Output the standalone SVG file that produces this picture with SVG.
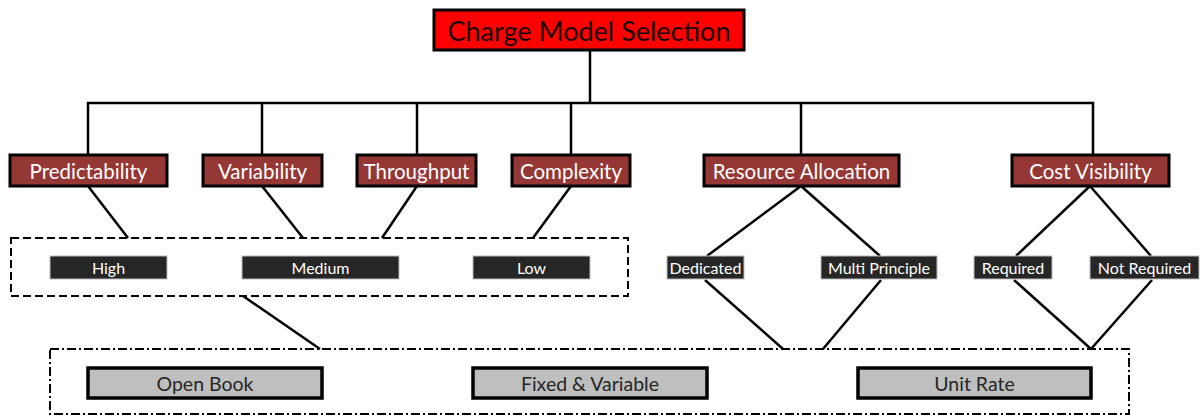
<svg xmlns="http://www.w3.org/2000/svg" width="1204" height="416" viewBox="0 0 1204 416">
<style>
text{font-family:Lato,"Open Sans","Liberation Sans",sans-serif;text-anchor:middle;dominant-baseline:central}
.root rect{fill:#ff0000;stroke:#000;stroke-width:3}
.root text{fill:#1a0000;font-size:27px}
.crit rect{fill:#953735;stroke:#000;stroke-width:3}
.crit text{fill:#fff;font-size:20.5px}
.opt rect{fill:#262626;stroke:#bbb;stroke-width:1}
.opt text{fill:#fff;font-size:16px}
.model rect{fill:#bfbfbf;stroke:#000;stroke-width:3.5}
.model text{fill:#262626;font-size:19.5px}
.conn line,.conn polyline{stroke:#000;stroke-width:2.5;fill:none}
.grp1{fill:none;stroke:#000;stroke-width:2;stroke-dasharray:8 4}
.grp2{fill:none;stroke:#000;stroke-width:2;stroke-dasharray:9 3 2 3}
</style>
<rect width="1204" height="416" fill="#fff"/>
<g id="connectors" class="conn">
<line x1="590" y1="50" x2="590" y2="103"/>
<polyline points="88,155 88,103 1093,103 1093,155"/>
<line x1="262" y1="103" x2="262" y2="155"/>
<line x1="417" y1="103" x2="417" y2="155"/>
<line x1="571" y1="103" x2="571" y2="155"/>
<line x1="801" y1="103" x2="801" y2="155"/>
<line x1="88" y1="186" x2="128" y2="238"/>
<line x1="262" y1="186" x2="303" y2="238"/>
<line x1="417" y1="186" x2="382" y2="238"/>
<line x1="571" y1="186" x2="533" y2="238"/>
<line x1="801" y1="186" x2="707" y2="256"/>
<line x1="801" y1="186" x2="880" y2="256"/>
<line x1="1090" y1="186" x2="1016" y2="256"/>
<line x1="1090" y1="186" x2="1151" y2="256"/>
<line x1="705" y1="280" x2="783" y2="349"/>
<line x1="881" y1="280" x2="823" y2="349"/>
<line x1="1014" y1="280" x2="1091" y2="349"/>
<line x1="1152" y1="280" x2="1091" y2="349"/>
<line x1="243" y1="296" x2="320" y2="349"/>
</g>
<rect id="group-levels" class="grp1" x="11" y="238" width="617" height="58"/>
<rect id="group-models" class="grp2" x="50" y="349" width="1079" height="65"/>
<g id="root" class="root"><rect x="434" y="10" width="310" height="40"/><text x="589" y="30">Charge Model Selection</text></g>
<g id="predictability" class="crit"><rect x="10" y="155" width="157" height="31"/><text x="88.5" y="170.5">Predictability</text></g>
<g id="variability" class="crit"><rect x="203" y="155" width="119" height="31"/><text x="262.5" y="170.5">Variability</text></g>
<g id="throughput" class="crit"><rect x="357" y="155" width="119" height="31"/><text x="416.5" y="170.5">Throughput</text></g>
<g id="complexity" class="crit"><rect x="512" y="155" width="118" height="31"/><text x="571" y="170.5">Complexity</text></g>
<g id="resource-allocation" class="crit"><rect x="704" y="155" width="195" height="31"/><text x="801.5" y="170.5">Resource Allocation</text></g>
<g id="cost-visibility" class="crit"><rect x="1012" y="155" width="157" height="31"/><text x="1090.5" y="170.5">Cost Visibility</text></g>
<g id="high" class="opt"><rect x="50" y="256" width="117" height="23"/><text x="108.5" y="267.5">High</text></g>
<g id="medium" class="opt"><rect x="242" y="256" width="157" height="23"/><text x="320.5" y="267.5">Medium</text></g>
<g id="low" class="opt"><rect x="473" y="256" width="117" height="23"/><text x="531.5" y="267.5">Low</text></g>
<g id="dedicated" class="opt"><rect x="667" y="256" width="77" height="23"/><text x="705.5" y="267.5">Dedicated</text></g>
<g id="multi-principle" class="opt"><rect x="821" y="256" width="116" height="23"/><text x="879" y="267.5">Multi Principle</text></g>
<g id="required" class="opt"><rect x="974" y="256" width="78" height="23"/><text x="1013" y="267.5">Required</text></g>
<g id="not-required" class="opt"><rect x="1090" y="256" width="109" height="23"/><text x="1144.5" y="267.5">Not Required</text></g>
<g id="open-book" class="model"><rect x="88" y="368" width="234" height="30"/><text x="205" y="383">Open Book</text></g>
<g id="fixed-variable" class="model"><rect x="473" y="368" width="234" height="30"/><text x="590" y="383">Fixed &amp; Variable</text></g>
<g id="unit-rate" class="model"><rect x="858" y="368" width="233" height="30"/><text x="974.5" y="383">Unit Rate</text></g>
</svg>
